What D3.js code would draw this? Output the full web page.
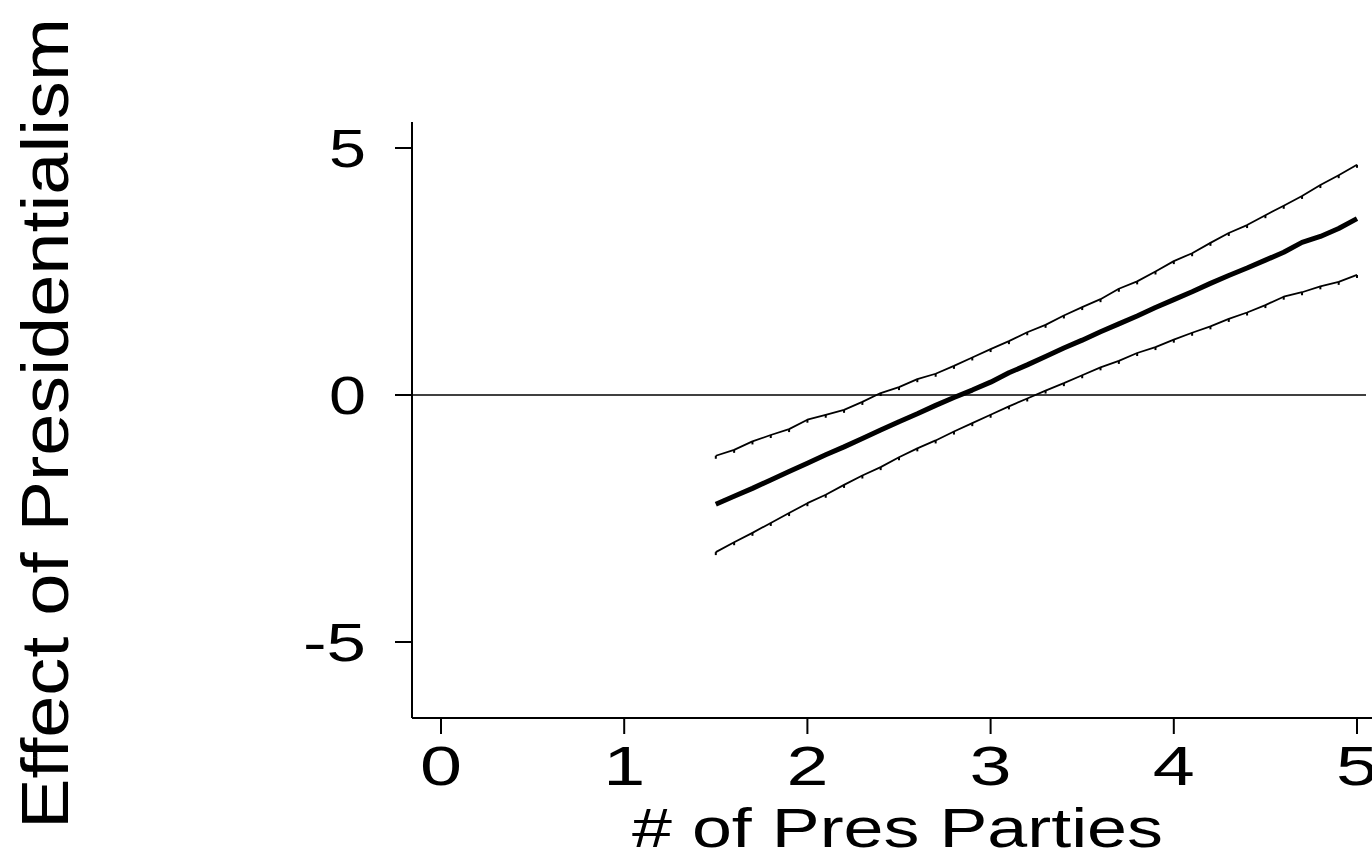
<!DOCTYPE html>
<html>
<head>
<meta charset="utf-8">
<script src="https://cdn.jsdelivr.net/npm/d3@7"></script>
<style>
html,body{margin:0;padding:0;background:#fff;}
svg{display:block;}
text{font-family:"Liberation Sans",Arial,Helvetica,sans-serif;fill:#000;}
</style>
</head>
<body>
<svg id="chart" width="1372" height="851"></svg>
<script>
// ---- data ----
const xValues = [1.5,1.6,1.7,1.8,1.9,2.0,2.1,2.2,2.3,2.4,2.5,2.6,2.7,2.8,2.9,3.0,3.1,3.2,3.3,3.4,3.5,3.6,3.7,3.8,3.9,4.0,4.1,4.2,4.3,4.4,4.5,4.6,4.7,4.8,4.9,5.0];
const effect = [-2.21,-2.05,-1.89,-1.72,-1.55,-1.38,-1.21,-1.05,-0.88,-0.71,-0.54,-0.38,-0.21,-0.05,0.10,0.26,0.45,0.61,0.78,0.95,1.11,1.28,1.44,1.60,1.77,1.93,2.09,2.26,2.42,2.57,2.73,2.89,3.09,3.21,3.37,3.57];
const upper = [-1.23,-1.11,-0.94,-0.81,-0.69,-0.50,-0.40,-0.30,-0.14,0.04,0.16,0.32,0.43,0.59,0.76,0.93,1.09,1.27,1.42,1.61,1.78,1.94,2.15,2.30,2.50,2.71,2.87,3.08,3.28,3.44,3.64,3.83,4.03,4.25,4.45,4.66];
const lower = [-3.18,-2.98,-2.79,-2.59,-2.39,-2.19,-2.02,-1.82,-1.63,-1.46,-1.26,-1.08,-0.92,-0.74,-0.57,-0.40,-0.23,-0.07,0.09,0.24,0.40,0.56,0.69,0.85,0.97,1.12,1.26,1.39,1.54,1.67,1.82,1.99,2.08,2.20,2.29,2.43];
const xTicks = [0,1,2,3,4,5];
const yTicks = [-5,0,5];
const xTitle = "# of Pres Parties";
const yTitle = "Effect of Presidentialism";

// ---- scales ----
const svg = d3.select("#chart");
const x = d3.scaleLinear().domain([0,5]).range([441,1357]);
const y = d3.scaleLinear().domain([-5,5]).range([642,148]);
const xMin = x.invert(412), yTop = y.invert(122), yBot = y.invert(718);

// axes lines
svg.append("line").attr("x1",412).attr("x2",412).attr("y1",y(yTop)).attr("y2",y(yBot))
  .attr("stroke","#000").attr("stroke-width",2);
svg.append("line").attr("x1",x(xMin)).attr("x2",1372).attr("y1",y(yBot)).attr("y2",y(yBot))
  .attr("stroke","#000").attr("stroke-width",2);

// y ticks
yTicks.forEach(t=>{
  svg.append("line").attr("x1",395).attr("x2",412).attr("y1",y(t)).attr("y2",y(t))
    .attr("stroke","#000").attr("stroke-width",2);
  const lab = String(t);
  svg.append("text").attr("x",366).attr("y",y(t)+19).attr("text-anchor","end")
    .attr("font-size",53).attr("textLength",lab.length===1?37:63).attr("lengthAdjust","spacingAndGlyphs")
    .text(lab);
});
// x ticks
xTicks.forEach(t=>{
  svg.append("line").attr("x1",x(t)).attr("x2",x(t)).attr("y1",718).attr("y2",734)
    .attr("stroke","#000").attr("stroke-width",2);
  svg.append("text").attr("x",x(t)-21).attr("y",785)
    .attr("font-size",55).attr("textLength",42).attr("lengthAdjust","spacingAndGlyphs")
    .text(String(t));
});

// titles
svg.append("text").attr("x",632).attr("y",847)
  .attr("font-size",56).attr("textLength",531).attr("lengthAdjust","spacingAndGlyphs")
  .text(xTitle);
svg.append("text").attr("transform","translate(68,829) rotate(-90)")
  .attr("font-size",66).attr("textLength",811).attr("lengthAdjust","spacingAndGlyphs")
  .text(yTitle);

// zero reference line
svg.append("line").attr("x1",x(xMin)).attr("x2",1366).attr("y1",y(0)).attr("y2",y(0))
  .attr("stroke","#000").attr("stroke-width",1.5);

const line = d3.line().x(d=>x(d[0])).y(d=>y(d[1]));
function series(vals, w){
  const pts = xValues.map((xv,i)=>[xv, vals[i]]);
  svg.append("path").datum(pts).attr("d",line).attr("fill","none")
    .attr("stroke","#000").attr("stroke-width",w).attr("stroke-linejoin","round");
  return pts;
}
[upper, lower].forEach(v=>{
  const pts = series(v, 1.8);
  svg.selectAll(null).data(pts).enter().append("rect")
    .attr("x",d=>x(d[0])-1).attr("y",d=>y(d[1])).attr("width",2).attr("height",3)
    .attr("fill","#000");
});
series(effect, 5);
</script>
</body>
</html>
